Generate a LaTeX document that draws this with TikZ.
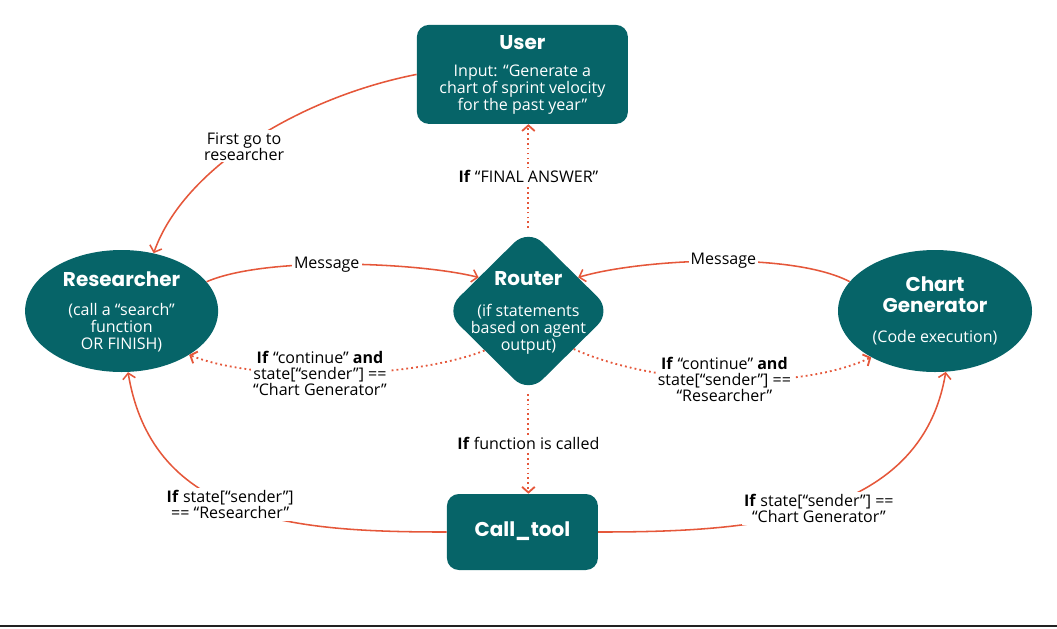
\documentclass[tikz,border=0pt]{standalone}
\usepackage{fontspec}
\setmainfont{Open Sans}
\newfontfamily\headfont{Poppins}
\usetikzlibrary{shapes.geometric,arrows.meta}
\definecolor{agentteal}{HTML}{066468}
\definecolor{flowred}{HTML}{E5573A}
\definecolor{rulegray}{HTML}{222222}

\begin{document}
\begin{tikzpicture}[
    agent/.style={fill=agentteal, draw=none, inner sep=0pt},
    head/.style={text=white, align=center, font=\headfont\bfseries\fontsize{14.2}{15}\selectfont},
    body/.style={text=white, align=center, font=\fontsize{11.4}{12.2}\selectfont},
    lbl/.style={fill=white, align=center, inner sep=1.5pt, font=\fontsize{11.4}{11.4}\selectfont},
    flow/.style={draw=flowred, line width=1.1pt, -{Straight Barb[length=4pt, width=9pt]}},
    cond/.style={flow, line width=1.3pt, dash pattern=on 1.3pt off 2.2pt}
]
    \useasboundingbox (0, 0) rectangle (26.425, -15.7);
    % Agents, router and tool:
    \node[agent, rectangle, rounded corners=0.3cm, minimum width=5.275cm, minimum height=2.475cm] (user) at (13.06, -1.86) {};
    \node[agent, diamond, rounded corners=0.5cm, minimum width=4.175cm, minimum height=4.125cm] (router) at (13.21, -7.775) {};
    \node[agent, ellipse, minimum width=4.825cm, minimum height=3.05cm] (researcher) at (3.04, -7.775) {};
    \node[agent, ellipse, minimum width=4.85cm, minimum height=3.05cm] (chart) at (23.375, -7.775) {};
    \node[agent, rectangle, rounded corners=0.3cm, minimum width=3.775cm, minimum height=1.9cm] (calltool) at (13.06, -13.3) {};
    \node[head] (usertitle) at (13.06, -1.075) {User};
    \node[body] (usertext) at (13.06, -2.24) {Input: “Generate a\\chart of sprint velocity\\for the past year”};
    \node[head] (routertitle) at (13.21, -6.975) {Router};
    \node[body] (routertext) at (13.21, -8.225) {(if statements\\based on agent\\output)};
    \node[head] (researchertitle) at (3.04, -6.975) {Researcher};
    \node[body] (researchertext) at (3.04, -8.2) {(call a “search”\\function\\OR FINISH)};
    \node[head] (charttitle) at (23.375, -7.37) {Chart\\Generator};
    \node[body] (charttext) at (23.375, -8.45) {(Code execution)};
    \node[head] (calltooltitle) at (13.06, -13.275) {Call\_tool};
    % Connectors:
    \draw[flow] (user.west) .. controls +(-2.925, -0.575) and +(0.75, 2.125) .. (researcher.61) node[lbl, pos=0.53] (firstgo) {First go to\\researcher};
    \draw[flow] (researcher.19) .. controls +(1.5, 0.65) and +(-1.5, 0.375) .. (router.146) node[lbl, pos=0.45] (msgleft) {Message};
    \draw[flow] (chart.161) .. controls +(-1.5, 0.775) and +(1.5, 0.45) .. (router.34) node[lbl, pos=0.47] (msgright) {Message};
    \draw[cond] (router.north) -- (router.north |- user.south) node[lbl, midway] (finalans) {\textbf{If} “FINAL ANSWER”};
    \draw[cond] (router.south) -- (router.south |- calltool.north) node[lbl, midway] (fncalled) {\textbf{If} function is called};
    \draw[cond] (router.222) .. controls +(-1.75, -0.7) and +(1.75, -0.7) .. (researcher.-33) node[lbl, pos=0.55] (contres) {\textbf{If} “continue” \textbf{and}\\state[“sender”] ==\\“Chart Generator”};
    \draw[cond] (router.-40) .. controls +(2, -0.9) and +(-1.875, -0.875) .. (chart.216) node[lbl, pos=0.5] (contchart) {\textbf{If} “continue” \textbf{and}\\state[“sender”] ==\\“Researcher”};
    \draw[flow] (calltool.west) .. controls +(-3.75, 0) and +(0.625, -3.75) .. (researcher.-84) node[lbl, pos=0.53] (backres) {\textbf{If} state[“sender”]\\== “Researcher”};
    \draw[flow] (calltool.east) .. controls +(3.75, 0) and +(-0.625, -3.75) .. (chart.-80) node[lbl, pos=0.5] (backchart) {\textbf{If} state[“sender”] ==\\“Chart Generator”};
    \draw[rulegray, line width=1.4pt] (0, -15.66) -- (26.425, -15.66);
\end{tikzpicture}
\end{document}
